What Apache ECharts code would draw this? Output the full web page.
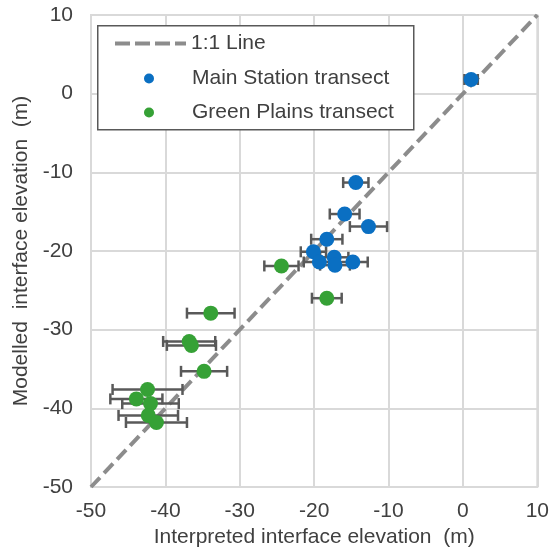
<!DOCTYPE html>
<html><head><meta charset="utf-8">
<script src="https://cdn.jsdelivr.net/npm/echarts@6/dist/echarts.min.js"></script>
<style>html,body{margin:0;padding:0;background:#fff}#c{width:552px;height:558px}</style>
</head><body><div id="c"></div>
<script>
// Main Station transect
const msX   = [1.1, -14.4, -15.9, -12.7, -18.3, -20.1, -19.3, -17.3, -17.2, -14.8];
const msY   = [1.8, -11.3, -15.3, -16.9, -18.5, -20.1, -21.4, -20.8, -21.8, -21.4];
const msErr = [0.9,   1.7,   2.0,   2.5,   2.1,   1.7,   2.1,   1.9,   2.0,   2.0];
// Green Plains transect
const gpX   = [-24.4, -18.3, -33.9, -36.8, -36.5, -34.8, -42.4, -43.9, -42.0, -42.3, -41.2];
const gpY   = [-21.9, -26.0, -27.9, -31.5, -32.0, -35.3, -37.6, -38.8, -39.4, -40.9, -41.8];
const gpErr = [  2.3,   2.0,   3.2,   3.5,   3.3,   3.1,   4.7,   3.5,   3.8,   4.0,   4.1];
// 1:1 line
const oneX = [-50, 10];
const oneY = [-50, 10];
const axisMin = -50, axisMax = 10, axisStep = 10;

const FONT = 'Liberation Sans, Arial, sans-serif';
const FS = 21;
const TXT = '#404040';
const BLUE = '#0A6FC2', GREEN = '#36A136', ERR = '#595959', DIAG = '#8C8C8C';

function errSeries(name, xs, ys, es) {
  return {
    type: 'custom', name: name, silent: true, z: 2,
    data: xs.map((x, i) => [x - es[i], x + es[i], ys[i]]),
    encode: { x: [0, 1], y: 2 },
    renderItem: (params, api) => {
      const lo = api.coord([api.value(0), api.value(2)]);
      const hi = api.coord([api.value(1), api.value(2)]);
      const h = 5.5;
      const style = { stroke: ERR, lineWidth: 2.5, fill: null };
      return { type: 'group', children: [
        { type: 'line', shape: { x1: lo[0], y1: lo[1], x2: hi[0], y2: hi[1] }, style },
        { type: 'line', shape: { x1: lo[0], y1: lo[1] - h, x2: lo[0], y2: lo[1] + h }, style },
        { type: 'line', shape: { x1: hi[0], y1: hi[1] - h, x2: hi[0], y2: hi[1] + h }, style }
      ]};
    }
  };
}

const axisCommon = {
  type: 'value', min: axisMin, max: axisMax, interval: axisStep,
  axisLine: { show: false }, axisTick: { show: false },
  splitLine: { show: true, lineStyle: { color: '#D9D9D9', width: 2 } },
  nameLocation: 'middle',
  nameTextStyle: { color: TXT, fontSize: FS, fontFamily: FONT },
};
const legendText = { color: TXT, fontSize: FS, fontFamily: FONT, lineHeight: 20 };

const chart = echarts.init(document.getElementById('c'), null, { renderer: 'canvas' });
chart.setOption({
  animation: false,
  backgroundColor: '#fff',
  grid: { left: 91, right: 11, top: 15, bottom: 71, show: true, borderColor: '#D9D9D9', borderWidth: 2, backgroundColor: 'transparent' },
  xAxis: Object.assign({}, axisCommon, {
    name: 'Interpreted interface elevation  (m)', nameGap: 39,
    axisLabel: { color: TXT, fontSize: FS, fontFamily: FONT, margin: 14 }
  }),
  yAxis: Object.assign({}, axisCommon, {
    name: 'Modelled  interface elevation  (m)', nameGap: 58,
    axisLabel: { color: TXT, fontSize: FS, fontFamily: FONT, margin: 18 }
  }),
  graphic: [{
    type: 'rect', left: 97, top: 25, z: 5,
    shape: { width: 316, height: 104 },
    style: { fill: '#fff', stroke: '#595959', lineWidth: 1.5 }
  }],
  legend: [
    { data: [{ name: '1:1 Line',
               icon: 'path://M0,0h15v4h-15z M20,0h15v4h-15z M40,0h15v4h-15z M60,0h11v4h-11z',
               itemStyle: { color: DIAG, borderWidth: 0 } }],
      left: 115, top: 33, padding: 0, itemWidth: 71, itemHeight: 4, z: 10, textStyle: legendText },
    { data: ['Main Station transect'], left: 144, top: 68, padding: 0, itemWidth: 76, itemHeight: 10, z: 10,
      textStyle: legendText },
    { data: ['Green Plains transect'], left: 144, top: 102, padding: 0, itemWidth: 76, itemHeight: 10, z: 10,
      textStyle: legendText }
  ],
  series: [
    { type: 'line', name: '1:1 Line', data: oneX.map((x, i) => [x, oneY[i]]), z: 1,
      showSymbol: false, symbol: 'none', silent: true,
      itemStyle: { color: DIAG },
      lineStyle: { color: DIAG, width: 4, type: [13, 6] } },
    errSeries('ms err', msX, msY, msErr),
    errSeries('gp err', gpX, gpY, gpErr),
    { type: 'scatter', name: 'Main Station transect', z: 3, symbolSize: 15,
      data: msX.map((x, i) => [x, msY[i]]), itemStyle: { color: BLUE, opacity: 1 } },
    { type: 'scatter', name: 'Green Plains transect', z: 3, symbolSize: 15,
      data: gpX.map((x, i) => [x, gpY[i]]), itemStyle: { color: GREEN, opacity: 1 } }
  ]
});
</script>
</body></html>
